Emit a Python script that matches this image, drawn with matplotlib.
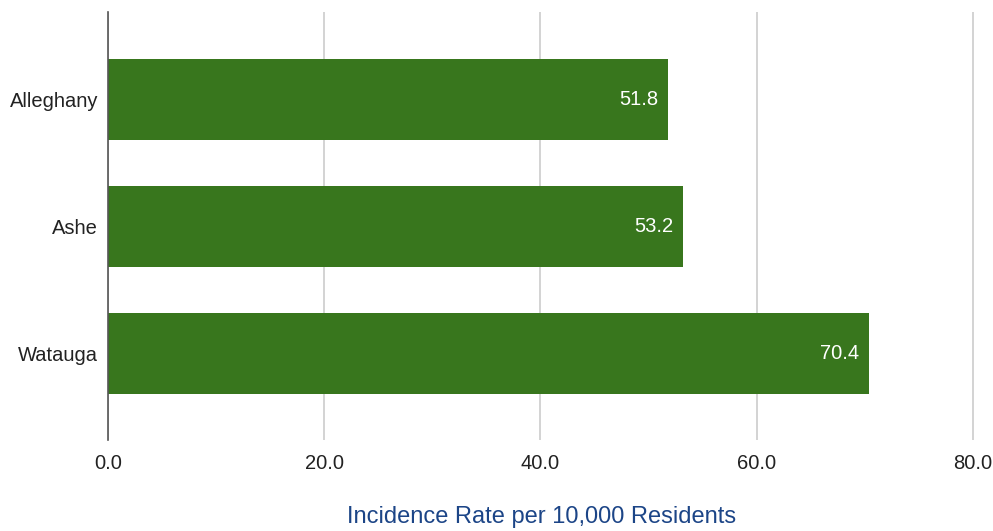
import matplotlib.pyplot as plt

plt.rcParams['font.family'] = ['Liberation Sans', 'DejaVu Sans']

counties = ['Alleghany', 'Ashe', 'Watauga']
rates = [51.8, 53.2, 70.4]
xticks = [0, 20, 40, 60, 80]

fig = plt.figure(figsize=(9.93, 5.31), dpi=100)
ax = fig.add_axes([0.1088, 0.171, 0.874, 0.806])

pos = list(range(len(counties)))
ax.barh(pos, rates, height=0.64, color='#38761d', zorder=3)

# value labels sit inside the end of each bar
for y, v in zip(pos, rates):
    ax.text(v - 0.9, y, f'{v:.1f}', ha='right', va='center',
            color='white', fontsize=14.5, zorder=4)

ax.set_yticks(pos)
ax.set_yticklabels(counties, fontsize=14.5, color='#222222')
ax.set_ylim(2.68, -0.69)
ax.set_xlim(0, 80.3)
ax.set_xticks(xticks)
ax.set_xticklabels([f'{t:.1f}' for t in xticks], fontsize=14.5, color='#222222')
ax.tick_params(length=0)
ax.tick_params(axis='x', pad=10)
ax.tick_params(axis='y', pad=7)

ax.grid(axis='x', color='#cccccc', linewidth=1.2, zorder=0)
for s in ['top', 'right', 'bottom']:
    ax.spines[s].set_visible(False)
ax.spines['left'].set_color('#555555')
ax.spines['left'].set_linewidth(1.2)
ax.spines['left'].set_zorder(5)

ax.set_xlabel('Incidence Rate per 10,000 Residents', fontsize=17,
              color='#1c4587', labelpad=24)

fig.savefig('out.png', dpi=100)
